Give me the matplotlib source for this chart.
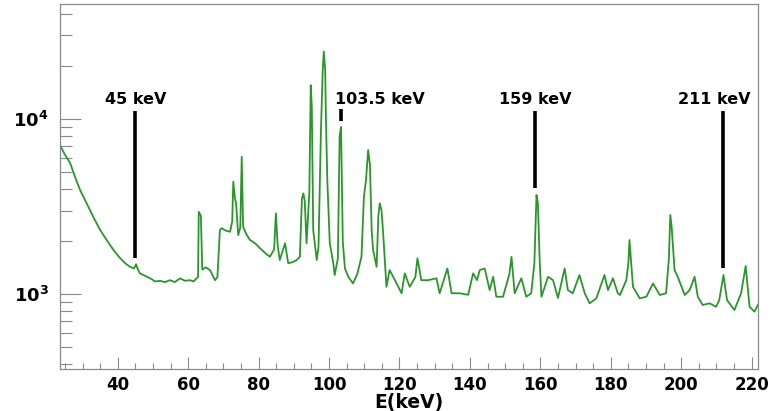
import numpy as np
import matplotlib
matplotlib.use('Agg')
import matplotlib.pyplot as plt
from matplotlib.ticker import LogLocator, NullFormatter, MultipleLocator, FixedLocator

# ── Spectrum (E in keV, counts) ────────────────────────────────────────────────
energy = [23.6, 25.0, 26.5, 27.9, 29.3, 30.7, 32.1, 33.5, 35.0, 36.4, 37.8, 39.2,
          40.7, 42.1, 43.5, 44.6, 45.2, 45.7, 46.3, 47.8, 49.2, 50.6, 52.0, 53.4,
          54.8, 56.2, 57.7, 59.1, 60.5, 61.5, 62.4, 62.8, 63.0, 63.6, 64.0, 65.0,
          66.2, 67.6, 68.3, 69.0, 69.5, 70.7, 71.9, 72.5, 72.8, 73.3, 73.6, 74.2,
          74.8, 75.2, 75.6, 76.5, 77.5, 79.0, 80.4, 81.8, 83.2, 84.4, 84.9, 85.4,
          86.0, 87.5, 88.4, 89.6, 90.8, 91.7, 92.3, 92.7, 93.1, 93.6, 94.4, 94.8,
          95.1, 95.5, 96.5, 97.0, 97.7, 98.2, 98.5, 98.9, 99.1, 99.5, 100.2, 101.2,
          101.6, 102.5, 103.0, 103.4, 103.9, 104.5, 105.5, 106.8, 108.0, 109.2,
          109.9, 110.5, 111.1, 111.6, 112.1, 112.5, 113.5, 114.0, 114.4, 114.9,
          115.3, 116.3, 117.2, 118.7, 120.6, 121.5, 122.9, 124.5, 125.1, 126.2,
          128.1, 130.5, 131.4, 133.6, 134.8, 137.1, 139.5, 140.9, 142.0, 142.8,
          144.2, 145.6, 146.6, 147.5, 149.4, 151.2, 151.8, 152.7, 154.6, 156.0,
          157.4, 158.3, 158.9, 159.3, 159.8, 160.3, 162.2, 163.6, 165.0, 166.9,
          167.8, 169.2, 171.1, 172.6, 174.0, 175.9, 178.2, 179.2, 180.6, 182.0,
          182.6, 184.4, 185.0, 185.3, 185.7, 186.3, 188.2, 190.1, 192.0, 193.9,
          195.7, 196.5, 196.9, 197.3, 198.1, 199.0, 201.0, 202.4, 203.8, 204.7,
          206.1, 208.0, 209.9, 210.8, 212.0, 213.0, 215.1, 217.0, 218.3, 219.4,
          220.8, 221.8]
counts = [7100, 6250, 5590, 4650, 3930, 3450, 3020, 2650, 2320, 2100, 1905, 1740,
          1600, 1500, 1430, 1400, 1480, 1380, 1313, 1270, 1230, 1180, 1190, 1170,
          1200, 1170, 1230, 1190, 1200, 1180, 1230, 1250, 2950, 2800, 1380, 1420,
          1371, 1200, 1250, 2320, 2380, 2300, 2270, 2600, 4380, 3500, 3300, 2170,
          2400, 6080, 2420, 2200, 2040, 1950, 1825, 1720, 1633, 1800, 2890, 1900,
          1564, 1950, 1500, 1520, 1564, 1630, 3500, 3760, 3400, 1950, 3770, 15600,
          11700, 2320, 1564, 1860, 8650, 19050, 24300, 19050, 10300, 4480, 1960, 1500,
          1284, 1600, 8000, 9000, 2000, 1400, 1250, 1150, 1300, 1630,
          3600, 4500, 6650, 5500, 2320, 1784, 1430, 2800, 3300, 3000,
          2320, 1100, 1371, 1200, 1010, 1313, 1100, 1250, 1600, 1200,
          1200, 1230, 1010, 1400, 1010, 1010, 990, 1313, 1200, 1371,
          1400, 1054, 1255, 965, 965, 1300, 1630, 1010, 1230, 965,
          1010, 1500, 3680, 3300, 1564, 965, 1255, 1200, 950, 1400,
          1054, 1010, 1284, 1010, 885, 945, 1284, 1054, 1230, 1010,
          987, 1200, 1500, 2036, 1600, 1100, 945, 965, 1150, 987,
          1010, 1600, 2830, 2400, 1371, 1255, 987, 1054, 1255, 965,
          865, 885, 846, 924, 1284, 924, 811, 1010, 1445, 846,
          793, 870]

# ── Marker lines: label, line energy, line bottom, line top ────────────────────
mark_labels = ['45 keV', '103.5 keV', '159 keV', '211 keV']
mark_e      = [45.0, 103.5, 158.5, 211.8]
mark_lo     = [1600, 9700, 4050, 1400]
mark_hi     = [11100, 11400, 11100, 11100]
label_e     = [45.0, 114.3, 158.5, 209.5]
label_y     = 11700

GREEN = '#2b962b'
GREY  = '#8a8a8a'

plt.rcParams['font.family'] = 'DejaVu Sans'
plt.rcParams['mathtext.fontset'] = 'custom'
plt.rcParams['mathtext.rm'] = 'DejaVu Sans:bold'
plt.rcParams['mathtext.bf'] = 'DejaVu Sans:bold'

fig = plt.figure(figsize=(7.84, 4.11), dpi=100, facecolor='white')
ax = fig.add_axes([60 / 784, 1 - 369 / 411, 698 / 784, 365 / 411])

ax.plot(energy, counts, color=GREEN, lw=1.3)

ax.vlines(mark_e, mark_lo, mark_hi, color='black', lw=2.6)
for lab, xe in zip(mark_labels, label_e):
    ax.text(xe, label_y, lab, ha='center', va='bottom',
            fontsize=11.5, fontweight='bold')

ax.set_yscale('log')
ax.set_xlim(23.6, 221.8)
ax.set_ylim(373, 45400)

ax.xaxis.set_major_locator(MultipleLocator(20))
ax.xaxis.set_minor_locator(MultipleLocator(5))
ax.yaxis.set_major_locator(FixedLocator([1e3, 1e4]))
ax.yaxis.set_major_formatter(plt.FuncFormatter(
    lambda v, p: r'$\mathbf{10^{%d}}$' % int(round(np.log10(v)))))
ax.yaxis.set_minor_locator(LogLocator(base=10, subs=np.arange(2, 10)))
ax.yaxis.set_minor_formatter(NullFormatter())

ax.tick_params(axis='x', which='major', direction='in', length=8.5, width=0.8,
               color=GREY, labelsize=12, pad=5)
ax.tick_params(axis='x', which='minor', direction='in', length=4, width=0.8,
               color=GREY)
ax.tick_params(axis='y', which='major', direction='in', length=15, width=0.8,
               color=GREY, labelsize=13, pad=8)
ax.tick_params(axis='y', which='minor', direction='in', length=8.5, width=0.8,
               color=GREY)
for lab in ax.get_xticklabels():
    lab.set_fontweight('bold')

for spine in ax.spines.values():
    spine.set_edgecolor(GREY)
    spine.set_linewidth(0.9)

ax.set_xlabel('E(keV)', fontsize=13.5, fontweight='bold', labelpad=-1)

plt.savefig('out.png', dpi=100, facecolor='white')
plt.close()
